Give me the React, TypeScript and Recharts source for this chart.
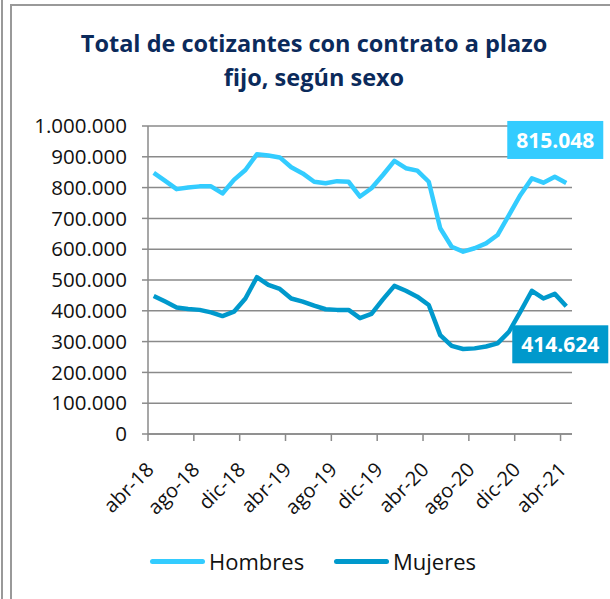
import { LineChart, Line, XAxis, YAxis, CartesianGrid, LabelList } from 'recharts';

const months = [
  'abr-18', 'may-18', 'jun-18', 'jul-18', 'ago-18', 'sep-18', 'oct-18', 'nov-18', 'dic-18',
  'ene-19', 'feb-19', 'mar-19', 'abr-19', 'may-19', 'jun-19', 'jul-19', 'ago-19', 'sep-19',
  'oct-19', 'nov-19', 'dic-19', 'ene-20', 'feb-20', 'mar-20', 'abr-20', 'may-20', 'jun-20',
  'jul-20', 'ago-20', 'sep-20', 'oct-20', 'nov-20', 'dic-20', 'ene-21', 'feb-21', 'mar-21', 'abr-21',
];

const hombres = [
  848000, 822000, 795000, 800000, 804000, 804000, 781000, 825000, 857000,
  908000, 904000, 898000, 866000, 846000, 819000, 814000, 821000, 819000,
  771000, 798000, 841000, 887000, 863000, 855000, 819000, 668000, 608000,
  592000, 603000, 619000, 646000, 711000, 776000, 830000, 816000, 835000, 815048,
];

const mujeres = [
  448000, 430000, 411000, 406000, 403000, 395000, 383000, 397000, 440000,
  509000, 484000, 471000, 440000, 430000, 417000, 405000, 403000, 403000,
  376000, 390000, 437000, 481000, 465000, 446000, 419000, 321000, 286000,
  276000, 278000, 284000, 294000, 332000, 397000, 465000, 440000, 455000, 414624,
];

const yTicks = [0, 100000, 200000, 300000, 400000, 500000, 600000, 700000, 800000, 900000, 1000000];
const xTicks = [0, 4, 8, 12, 16, 20, 24, 28, 32, 36];

const data = months.map((m, i) => ({ x: i + 0.5, month: m, Hombres: hombres[i], Mujeres: mujeres[i] }));

const FONT = "'Open Sans', sans-serif";
const LIGHT = '#33ccff';
const DARK = '#0099cc';
const GRID = '#8a8a8a';

const fmt = (v: number) => String(v).replace(/\B(?=(\d{3})+(?!\d))/g, '.');

function XTick({ x, y, payload }: any) {
  return (
    <text
      x={x + 7}
      y={y + 28}
      transform={`rotate(-45, ${x + 7}, ${y + 28})`}
      textAnchor="end"
      fontSize={20}
      fontFamily={FONT}
      fill="#111"
    >
      {months[payload.value]}
    </text>
  );
}

function endLabel(fill: string, dx: number, dy: number) {
  return (props: any) => {
    const { x, y, index, value } = props;
    if (index !== months.length - 1) return null;
    const cx = x + dx;
    const cy = y + dy;
    return (
      <g>
        <rect x={cx - 48} y={cy - 19} width={96} height={38} fill={fill} />
        <text
          x={cx}
          y={cy + 8}
          textAnchor="middle"
          fontSize={21}
          fontWeight="bold"
          fontFamily={FONT}
          fill="#fff"
        >
          {fmt(value)}
        </text>
      </g>
    );
  };
}

export default function App() {
  return (
    <div style={{ position: 'absolute', left: 0, top: 0, width: 610, height: 599, background: '#fff', fontFamily: FONT }}>
      <div style={{ position: 'absolute', left: 1, top: 0, width: 2, height: 599, background: '#999' }} />
      <div
        style={{
          position: 'absolute', left: 10, top: 4, width: 600, height: 595,
          borderLeft: '2px solid #999', borderTop: '2px solid #999', boxSizing: 'border-box',
        }}
      />
      <div
        style={{
          position: 'absolute', left: 0, top: 26, width: 628, textAlign: 'center',
          color: '#0b2a5b', fontWeight: 'bold', fontSize: 23.5, lineHeight: '34px',
        }}
      >
        Total de cotizantes con contrato a plazo
        <br />
        fijo, según sexo
      </div>
      <div style={{ position: 'absolute', left: 0, top: 0 }}>
        <LineChart width={610} height={599} data={data} margin={{ top: 126, right: 38, bottom: 0, left: 48 }}>
          <CartesianGrid horizontal vertical={false} stroke={GRID} strokeWidth={1.5} />
          <XAxis
            dataKey="x"
            type="number"
            domain={[0, 37]}
            ticks={xTicks}
            interval={0}
            height={165}
            stroke={GRID}
            strokeWidth={1.5}
            tickSize={7}
            tick={<XTick />}
          />
          <YAxis
            width={100}
            domain={[0, 1000000]}
            ticks={yTicks}
            interval={0}
            stroke={GRID}
            strokeWidth={1.5}
            tickSize={6}
            tickMargin={15}
            tickFormatter={fmt}
            tick={{ fontSize: 20.5, fontFamily: FONT, fill: '#111' }}
          />
          <Line dataKey="Hombres" stroke={LIGHT} strokeWidth={4.5} dot={false} isAnimationActive={false} strokeLinejoin="round">
            <LabelList dataKey="Hombres" content={endLabel(LIGHT, -11, -43)} />
          </Line>
          <Line dataKey="Mujeres" stroke={DARK} strokeWidth={4.5} dot={false} isAnimationActive={false} strokeLinejoin="round">
            <LabelList dataKey="Mujeres" content={endLabel(DARK, -6, 38)} />
          </Line>
        </LineChart>
      </div>
      {[
        { name: 'Hombres', color: LIGHT, left: 150 },
        { name: 'Mujeres', color: DARK, left: 334 },
      ].map((s) => (
        <div key={s.name} style={{ position: 'absolute', left: s.left, top: 546, display: 'flex', alignItems: 'center' }}>
          <div style={{ width: 55, height: 5, borderRadius: 3, background: s.color }} />
          <span style={{ marginLeft: 4, fontSize: 22, color: '#111' }}>{s.name}</span>
        </div>
      ))}
    </div>
  );
}
